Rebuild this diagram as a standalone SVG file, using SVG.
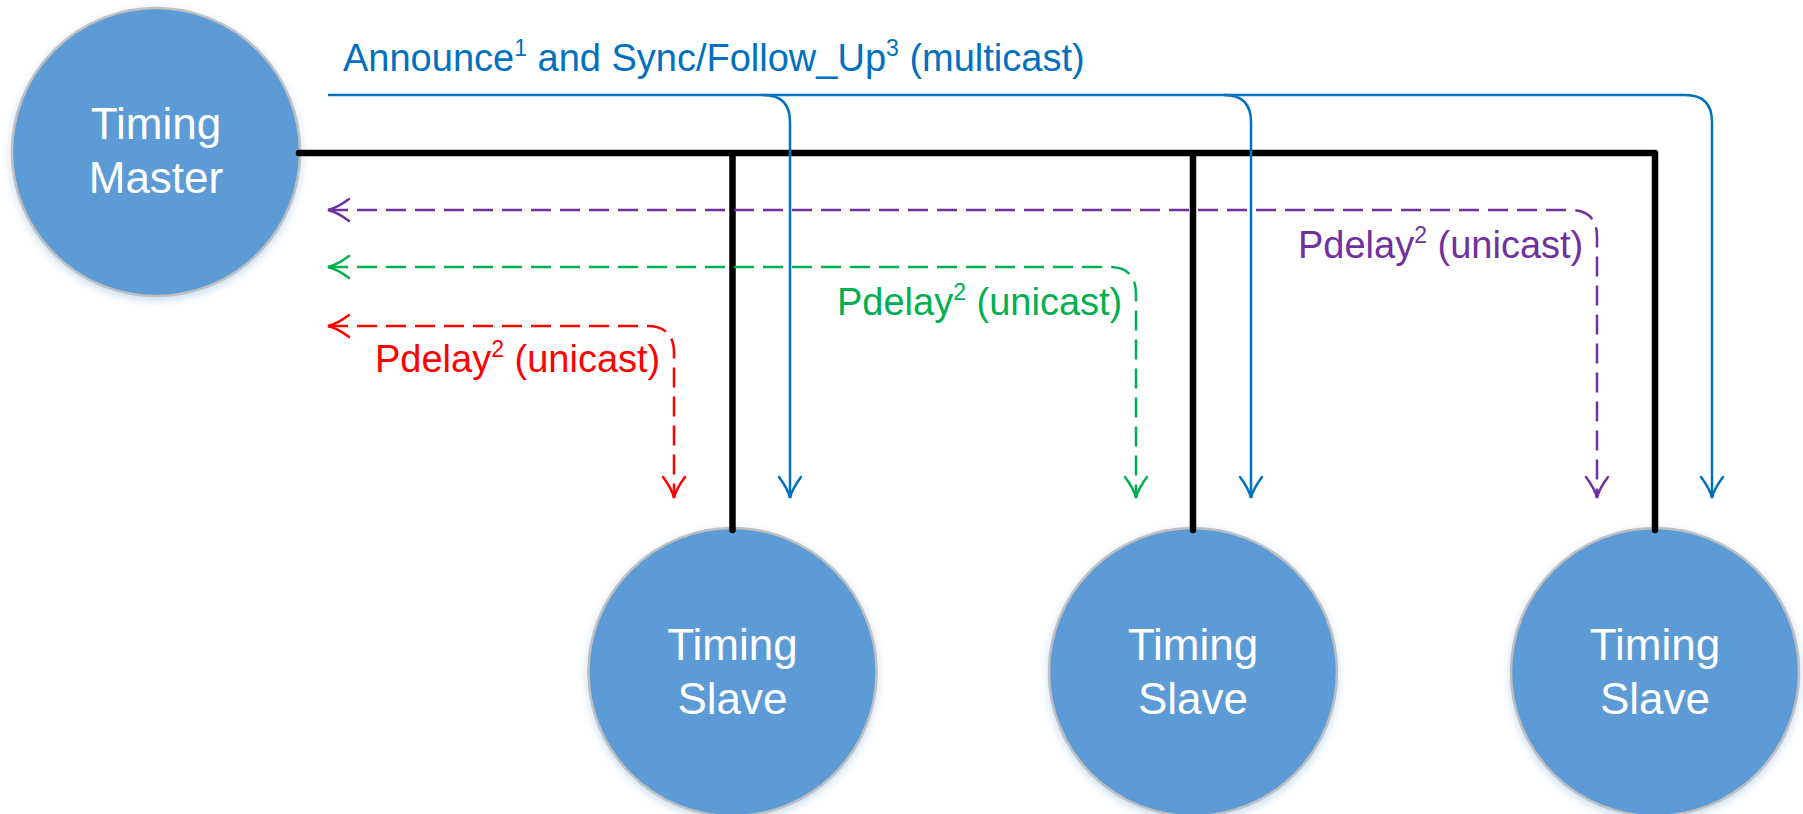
<svg xmlns="http://www.w3.org/2000/svg" width="1803" height="814" viewBox="0 0 1803 814">
<style>
.node{fill:#5B9BD5;stroke:#BFBFBF;stroke-width:2.5}
.ntext{font-family:"Liberation Sans",Arial,sans-serif;font-size:44px;fill:#FFFFFF;text-anchor:middle}
.lbl{font-family:"Liberation Sans",Arial,sans-serif;font-size:38px}
.bus{fill:none;stroke:#000000;stroke-width:6.5;stroke-linecap:round;stroke-linejoin:round}
.blue{fill:none;stroke:#0070C0;stroke-width:2.5}
.dash{fill:none;stroke-width:2.5;stroke-dasharray:20 9}
</style>
<defs>
<filter id="sh" x="-20%" y="-20%" width="140%" height="140%">
<feGaussianBlur in="SourceAlpha" stdDeviation="4"/>
<feOffset dx="0" dy="3" result="b"/>
<feFlood flood-color="#9DC3E6" flood-opacity="0.6"/>
<feComposite in2="b" operator="in"/>
<feMerge><feMergeNode/><feMergeNode in="SourceGraphic"/></feMerge>
</filter>
<marker id="aBlue" markerUnits="userSpaceOnUse" viewBox="-24 -13 27 26" markerWidth="27" markerHeight="26" refX="0" refY="0" orient="auto-start-reverse">
<path d="M -21,-11 Q -9,-2 0,0 Q -9,2 -21,11" fill="none" stroke="#0070C0" stroke-width="2.5" stroke-linecap="round"/>
</marker>
<marker id="aRed" markerUnits="userSpaceOnUse" viewBox="-24 -13 27 26" markerWidth="27" markerHeight="26" refX="0" refY="0" orient="auto-start-reverse">
<path d="M -21,-11 Q -9,-2 0,0 Q -9,2 -21,11" fill="none" stroke="#FF0000" stroke-width="2.5" stroke-linecap="round"/>
</marker>
<marker id="aGreen" markerUnits="userSpaceOnUse" viewBox="-24 -13 27 26" markerWidth="27" markerHeight="26" refX="0" refY="0" orient="auto-start-reverse">
<path d="M -21,-11 Q -9,-2 0,0 Q -9,2 -21,11" fill="none" stroke="#00B050" stroke-width="2.5" stroke-linecap="round"/>
</marker>
<marker id="aPurple" markerUnits="userSpaceOnUse" viewBox="-24 -13 27 26" markerWidth="27" markerHeight="26" refX="0" refY="0" orient="auto-start-reverse">
<path d="M -21,-11 Q -9,-2 0,0 Q -9,2 -21,11" fill="none" stroke="#7030A0" stroke-width="2.5" stroke-linecap="round"/>
</marker>
</defs>
<rect width="1803" height="814" fill="#FFFFFF"/>

<g id="master">
<circle class="node" cx="156" cy="152" r="144" filter="url(#sh)"/>
<text class="ntext" x="156" y="139">Timing</text>
<text class="ntext" x="156" y="193">Master</text>
</g>
<g id="slave1">
<circle class="node" cx="732.5" cy="672" r="144" filter="url(#sh)"/>
<text class="ntext" x="732.5" y="660">Timing</text>
<text class="ntext" x="732.5" y="714">Slave</text>
</g>
<g id="slave2">
<circle class="node" cx="1193" cy="672" r="144" filter="url(#sh)"/>
<text class="ntext" x="1193" y="660">Timing</text>
<text class="ntext" x="1193" y="714">Slave</text>
</g>
<g id="slave3">
<circle class="node" cx="1655" cy="672" r="144" filter="url(#sh)"/>
<text class="ntext" x="1655" y="660">Timing</text>
<text class="ntext" x="1655" y="714">Slave</text>
</g>

<g id="connectors">
<path class="bus" d="M 299,153 H 1655 V 530 M 732.5,153 V 530 M 1193,153 V 530"/>
<path class="blue" d="M 328,95 H 1685 Q 1712,95 1712,122 V 498" marker-end="url(#aBlue)"/>
<path class="blue" d="M 763,95 Q 790,95 790,122 V 498" marker-end="url(#aBlue)"/>
<path class="blue" d="M 1224,95 Q 1251,95 1251,122 V 498" marker-end="url(#aBlue)"/>
<path class="dash" stroke="#7030A0" d="M 328,210 H 1570 Q 1597,210 1597,237 V 498" marker-start="url(#aPurple)" marker-end="url(#aPurple)"/>
<path class="dash" stroke="#00B050" d="M 328,267 H 1109 Q 1136,267 1136,294 V 498" marker-start="url(#aGreen)" marker-end="url(#aGreen)"/>
<path class="dash" stroke="#FF0000" d="M 328,326 H 647 Q 674,326 674,353 V 498" marker-start="url(#aRed)" marker-end="url(#aRed)"/>
</g>

<g id="labels">
<text class="lbl" fill="#0070C0" x="343" y="71">Announce<tspan font-size="23" dy="-15">1</tspan><tspan dy="15"> and Sync/Follow_Up</tspan><tspan font-size="23" dy="-15">3</tspan><tspan dy="15"> (multicast)</tspan></text>
<text class="lbl" fill="#7030A0" x="1298" y="258">Pdelay<tspan font-size="23" dy="-15">2</tspan><tspan dy="15"> (unicast)</tspan></text>
<text class="lbl" fill="#00B050" x="837" y="315">Pdelay<tspan font-size="23" dy="-15">2</tspan><tspan dy="15"> (unicast)</tspan></text>
<text class="lbl" fill="#FF0000" x="375" y="372">Pdelay<tspan font-size="23" dy="-15">2</tspan><tspan dy="15"> (unicast)</tspan></text>
</g>
</svg>
